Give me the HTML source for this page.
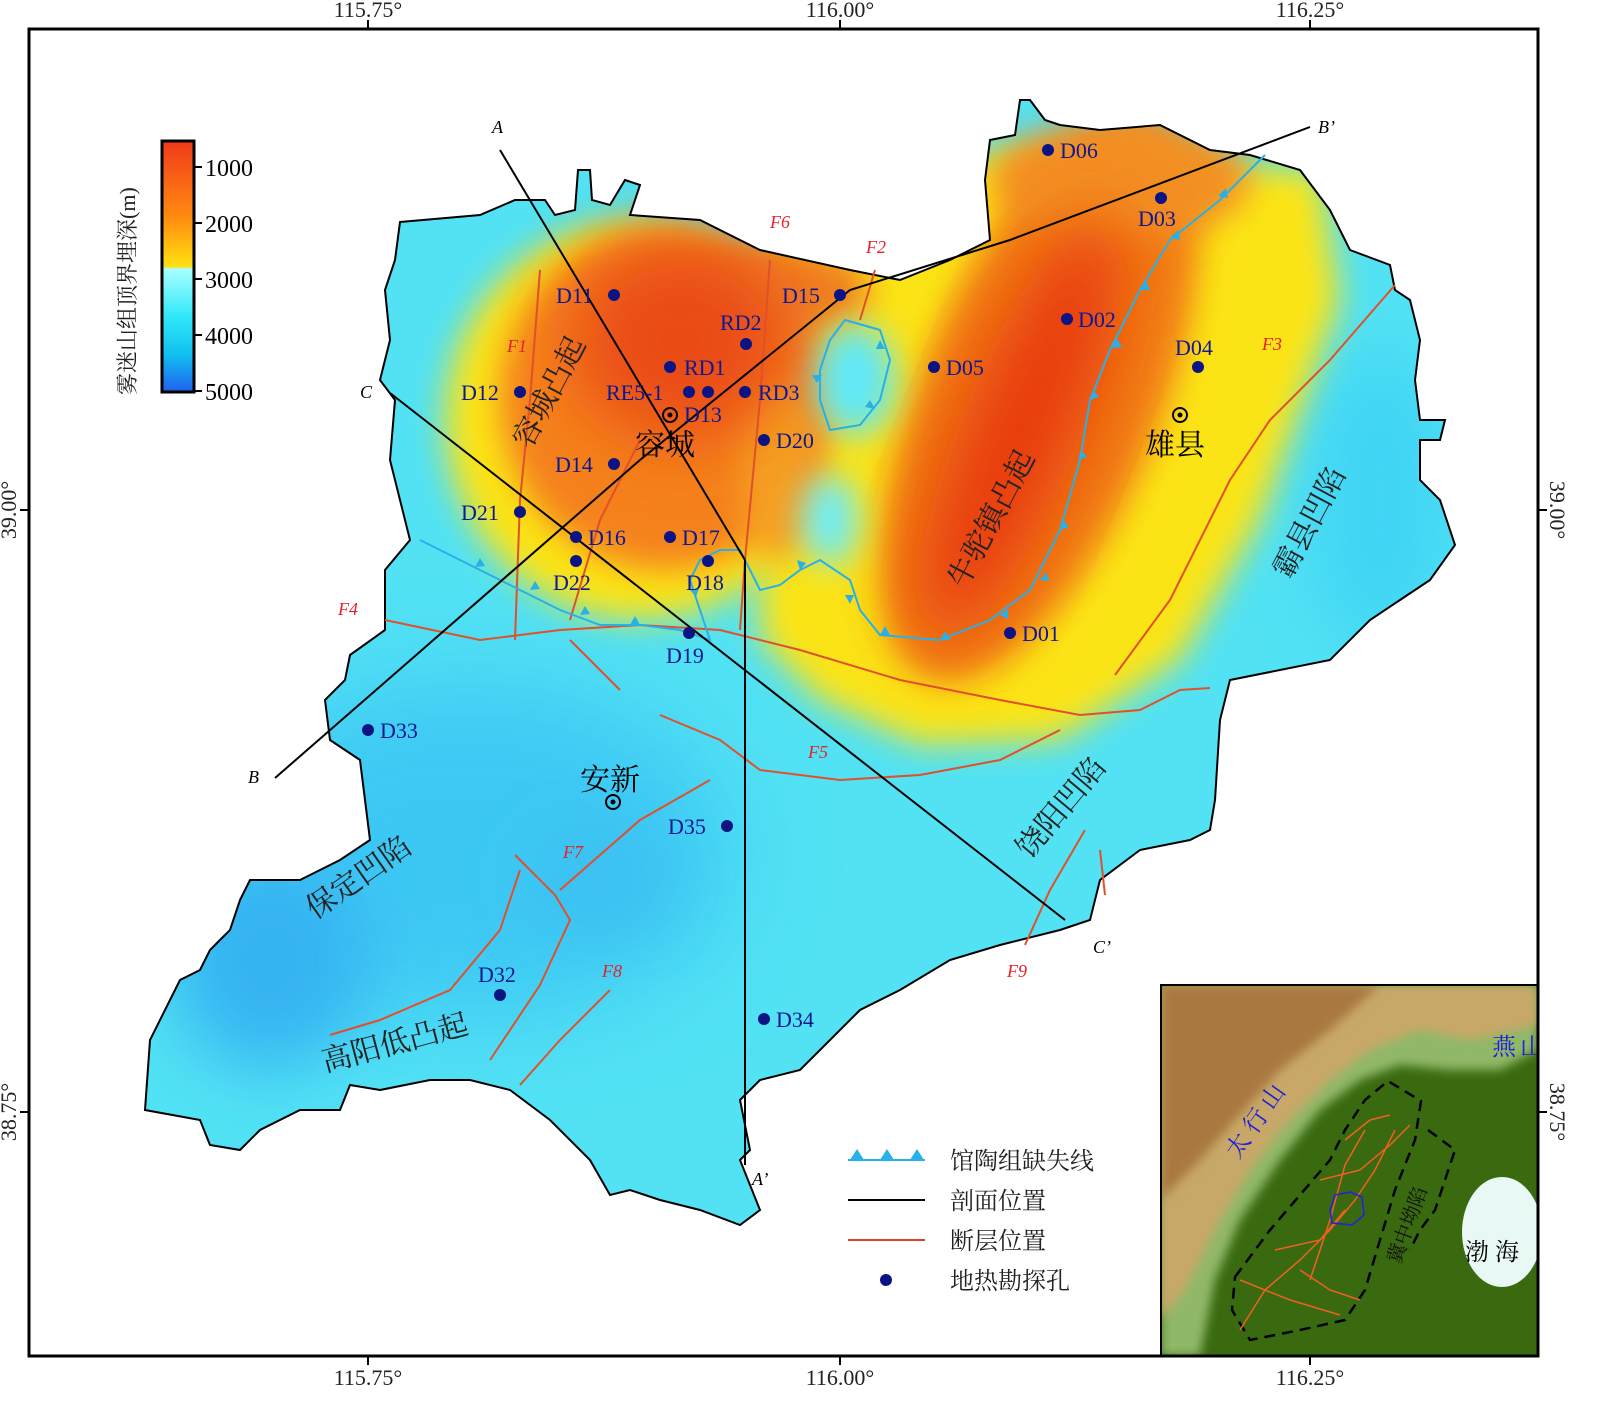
<!DOCTYPE html>
<html><head><meta charset="utf-8"><style>
html,body{margin:0;padding:0;background:#fff;}
svg{display:block;font-family:"Liberation Serif","Noto Serif CJK SC",serif;}
.cn{font-family:"Liberation Serif","Noto Serif CJK SC","Noto Sans CJK SC",serif;}
</style></head><body>
<svg width="1602" height="1416" viewBox="0 0 1602 1416" xmlns="http://www.w3.org/2000/svg">
<defs>
<filter id="b1" x="-50%" y="-50%" width="200%" height="200%"><feGaussianBlur stdDeviation="35"/></filter>
<filter id="b2" x="-50%" y="-50%" width="200%" height="200%"><feGaussianBlur stdDeviation="16"/></filter>
<filter id="b3" x="-50%" y="-50%" width="200%" height="200%"><feGaussianBlur stdDeviation="50"/></filter>
<filter id="b4" x="-50%" y="-50%" width="200%" height="200%"><feGaussianBlur stdDeviation="5"/></filter>
<clipPath id="ins"><rect x="1161" y="985" width="377" height="371"/></clipPath>
<clipPath id="reg"><path id="regp" d="M400,222 L480,215 515,200 545,200 555,215 575,210 578,170 590,170 592,200 610,205 625,180 640,185 630,215 700,220 760,250 850,270 900,280 950,260 990,240 985,180 990,140 1015,135 1020,100 1030,100 1045,120 1060,125 1100,130 1160,125 1210,150 1250,155 1300,170 1330,210 1350,250 1390,265 1395,290 1410,300 1420,340 1415,380 1420,420 1445,420 1440,440 1420,440 1420,480 1440,500 1455,545 1430,580 1400,600 1370,620 1330,660 1230,680 1220,720 1215,800 1210,830 1190,840 1140,850 1100,880 1090,920 1060,930 1000,945 950,960 900,990 860,1010 820,1050 800,1070 760,1080 740,1100 750,1150 740,1160 760,1210 740,1225 700,1210 660,1200 630,1190 610,1195 590,1160 550,1120 510,1090 470,1080 430,1080 380,1090 350,1085 340,1110 300,1110 260,1130 240,1150 210,1145 200,1120 145,1110 150,1040 170,1000 180,980 200,970 210,950 230,930 240,900 250,880 300,880 340,860 370,840 365,800 360,760 330,740 325,700 345,680 350,655 385,630 385,570 410,540 400,500 390,460 395,400 380,380 390,340 385,290 395,260 Z"/></clipPath>
<linearGradient id="cb" x1="0" y1="0" x2="0" y2="1">
<stop offset="0" stop-color="#f03a1a"/><stop offset="0.3" stop-color="#ff8a10"/><stop offset="0.5" stop-color="#ffe010"/><stop offset="0.51" stop-color="#a8ffff"/><stop offset="0.7" stop-color="#30e8f8"/><stop offset="0.85" stop-color="#10c0f0"/><stop offset="1" stop-color="#2060f0"/></linearGradient>
</defs>
<rect width="1602" height="1416" fill="#fff"/>
<g clip-path="url(#reg)">
<rect x="100" y="80" width="1400" height="1200" fill="#52e2f4"/>
<ellipse cx="470" cy="850" rx="260" ry="170" fill="#3cc8f4" filter="url(#b3)"/>
<ellipse cx="270" cy="960" rx="100" ry="110" fill="#36b4f2" filter="url(#b1)"/>
<ellipse cx="600" cy="880" rx="70" ry="50" fill="#3ac0f2" filter="url(#b1)"/>
<ellipse cx="1380" cy="500" rx="70" ry="150" fill="#40d4f4" filter="url(#b1)"/>
<ellipse cx="640" cy="420" rx="195" ry="200" fill="#fbe418" filter="url(#b2)"/>
<path d="M760,240 L1000,150 1320,170 1340,300 1260,520 1180,660 1060,740 920,745 820,700 760,640 Z" fill="#fbe418" filter="url(#b2)"/>
<ellipse cx="665" cy="400" rx="165" ry="170" fill="#f5821a" filter="url(#b2)"/>
<ellipse cx="780" cy="290" rx="90" ry="45" fill="#f08020" filter="url(#b2)"/>
<ellipse cx="780" cy="470" rx="40" ry="90" fill="#f5a020" filter="url(#b2)"/>
<ellipse cx="1040" cy="400" rx="120" ry="300" transform="rotate(22 1040 400)" fill="#f28018" filter="url(#b2)"/>
<ellipse cx="1120" cy="180" rx="130" ry="60" fill="#f39020" filter="url(#b2)"/>
<ellipse cx="680" cy="340" rx="110" ry="100" fill="#ea4c14" filter="url(#b1)"/>
<ellipse cx="1020" cy="430" rx="60" ry="230" transform="rotate(22 1020 430)" fill="#e83a10" filter="url(#b1)"/>
<ellipse cx="855" cy="380" rx="40" ry="55" fill="#60e8f8" filter="url(#b2)"/>
<ellipse cx="830" cy="520" rx="28" ry="45" fill="#70ecf8" filter="url(#b2)"/>
</g>
<use href="#regp" fill="none" stroke="#000" stroke-width="2"/>
<g fill="none" stroke="#e0502a" stroke-width="2">
<path d="M540,270 L530,400 520,500 515,640"/>
<path d="M770,260 L760,400 745,560 740,630"/>
<path d="M875,270 L860,320"/>
<path d="M640,440 L600,520 570,620"/>
<path d="M1395,285 L1330,360 1270,420 1230,480 1170,600 1115,675"/>
<path d="M385,620 L480,640 560,630 640,625 720,630 800,650 900,680 1000,700 1080,715 1140,710 1180,690 1210,688"/>
<path d="M570,640 L620,690"/>
<path d="M660,715 L720,740 760,770 840,780 920,775 1000,760 1060,730"/>
<path d="M710,780 L640,820 560,890"/>
<path d="M515,855 L555,895 570,920 540,985 490,1060"/>
<path d="M520,870 L500,930 450,990 380,1020 330,1035"/>
<path d="M610,990 L560,1040 520,1085"/>
<path d="M1085,830 L1050,890 1025,945"/>
<path d="M1100,850 L1105,895"/>
</g>
<g fill="none" stroke="#28b0e8" stroke-width="2">
<path d="M1265,155 L1220,200 1170,240 1140,290 1110,350 1090,400 1080,460 1060,530 1030,590 990,620 940,640 880,635 860,610 850,580 820,560 800,570 780,585 760,590 750,570 740,550 720,550 700,560 690,580 700,610 710,640 680,630 640,625 600,625 560,610 520,590 480,570 440,550 420,540"/>
<path d="M845,320 L880,330 890,360 880,400 860,425 830,430 820,400 820,370 830,340 Z"/>
</g>
<g fill="#28b0e8">
<path d="M1218,196 l8,-8 2,10z M1170,238 l8,-8 2,10z M1140,290 l6,-9 4,9z M1112,348 l5,-9 5,8z M1090,400 l3,-10 6,7z M1078,460 l3,-10 6,7z M1060,530 l3,-10 6,7z M1040,580 l6,-8 3,9z M1000,615 l8,-6 0,10z M940,640 l5,-9 5,9z M880,635 l5,-9 5,9z M845,595 l9,0 -4,9z M800,570 l-3,-10 9,3z M690,590 l9,-2 -3,9z M630,625 l5,-9 5,9z M580,615 l5,-9 5,8z M530,590 l5,-9 5,8z M475,567 l5,-9 5,8z M812,375 l10,0 -5,8z M880,340 l5,9 -9,0z M870,400 l5,9 -10,-2z"/>
</g>
<g stroke="#000" stroke-width="2" fill="none">
<path d="M500,150 L745,560 745,1165"/>
<path d="M275,778 L640,460 850,290 1010,240 1310,127"/>
<path d="M390,393 L1065,920"/>
</g>
<g font-style="italic" font-size="18">
<text x="492" y="133">A</text><text x="752" y="1185">A’</text>
<text x="248" y="783">B</text><text x="1318" y="133">B’</text>
<text x="360" y="398">C</text><text x="1093" y="953">C’</text>
</g>
<g fill="#e8202a" font-style="italic" font-size="18">
<text x="507" y="352">F1</text><text x="866" y="253">F2</text><text x="1262" y="350">F3</text>
<text x="338" y="615">F4</text><text x="808" y="758">F5</text><text x="770" y="228">F6</text>
<text x="563" y="858">F7</text><text x="602" y="977">F8</text><text x="1007" y="977">F9</text>
</g>
<g fill="#0c1484">
<circle cx="1048" cy="150" r="6"/><circle cx="1161" cy="198" r="6"/><circle cx="614" cy="295" r="6"/><circle cx="840" cy="295" r="6"/><circle cx="1067" cy="319" r="6"/><circle cx="746" cy="344" r="6"/><circle cx="1198" cy="367" r="6"/><circle cx="670" cy="367" r="6"/><circle cx="934" cy="367" r="6"/><circle cx="520" cy="392" r="6"/><circle cx="689" cy="392" r="6"/><circle cx="708" cy="392" r="6"/><circle cx="745" cy="392" r="6"/><circle cx="764" cy="440" r="6"/><circle cx="614" cy="464" r="6"/><circle cx="520" cy="512" r="6"/><circle cx="576" cy="537" r="6"/><circle cx="670" cy="537" r="6"/><circle cx="576" cy="561" r="6"/><circle cx="708" cy="561" r="6"/><circle cx="1010" cy="633" r="6"/><circle cx="689" cy="633" r="6"/><circle cx="368" cy="730" r="6"/><circle cx="727" cy="826" r="6"/><circle cx="500" cy="995" r="6"/><circle cx="764" cy="1019" r="6"/>
</g>
<g fill="#101890" font-size="22">
<text x="1060" y="158">D06</text><text x="1138" y="226">D03</text><text x="556" y="303">D11</text><text x="782" y="303">D15</text><text x="1078" y="327">D02</text><text x="720" y="330">RD2</text><text x="1175" y="355">D04</text><text x="684" y="375">RD1</text><text x="946" y="375">D05</text><text x="461" y="400">D12</text><text x="606" y="400">RE5-1</text><text x="758" y="400">RD3</text><text x="684" y="422">D13</text><text x="776" y="448">D20</text><text x="555" y="472">D14</text><text x="461" y="520">D21</text><text x="588" y="545">D16</text><text x="682" y="545">D17</text><text x="553" y="590">D22</text><text x="686" y="590">D18</text><text x="1022" y="641">D01</text><text x="666" y="663">D19</text><text x="380" y="738">D33</text><text x="668" y="834">D35</text><text x="478" y="982">D32</text><text x="776" y="1027">D34</text>
</g>
<g fill="none" stroke="#000" stroke-width="2"><circle cx="670" cy="415" r="7"/><circle cx="1180" cy="415" r="7"/><circle cx="613" cy="802" r="7"/></g>
<g fill="#000"><circle cx="670" cy="415" r="2.5"/><circle cx="1180" cy="415" r="2.5"/><circle cx="613" cy="802" r="2.5"/></g>
<g class="cn" font-size="30" fill="#000">
<text x="635" y="455">容城</text><text x="1145" y="455">雄县</text><text x="580" y="790">安新</text>
</g>
<g class="cn" font-size="30" fill="#222">
<text transform="translate(530,450) rotate(-62)">容城凸起</text>
<text transform="translate(965,590) rotate(-62)">牛驼镇凸起</text>
<text transform="translate(1290,580) rotate(-62)">霸县凹陷</text>
<text transform="translate(1030,860) rotate(-50)">饶阳凹陷</text>
<text transform="translate(315,920) rotate(-35)">保定凹陷</text>
<text transform="translate(325,1072) rotate(-15)">高阳低凸起</text>
</g>
<rect x="162" y="141" width="32" height="251" fill="url(#cb)" stroke="#000" stroke-width="3"/>
<g stroke="#000" stroke-width="2">
<line x1="194" y1="167" x2="202" y2="167"/><line x1="194" y1="223" x2="202" y2="223"/><line x1="194" y1="279" x2="202" y2="279"/><line x1="194" y1="335" x2="202" y2="335"/><line x1="194" y1="391" x2="202" y2="391"/>
</g>
<g font-size="24" fill="#000"><text x="205" y="176">1000</text><text x="205" y="232">2000</text><text x="205" y="288">3000</text><text x="205" y="344">4000</text><text x="205" y="400">5000</text></g>
<text class="cn" transform="translate(135,395) rotate(-90)" font-size="22" fill="#222">雾迷山组顶界埋深(m)</text>
<line x1="848" y1="1160" x2="925" y2="1160" stroke="#28b0e8" stroke-width="2"/>
<g fill="#28b0e8"><path d="M850,1160 l7,-11 7,11z M880,1160 l7,-11 7,11z M910,1160 l7,-11 7,11z"/></g>
<line x1="848" y1="1200" x2="925" y2="1200" stroke="#000" stroke-width="2"/>
<line x1="848" y1="1240" x2="925" y2="1240" stroke="#e04028" stroke-width="2"/>
<circle cx="886" cy="1280" r="6" fill="#0c1484"/>
<g class="cn" font-size="24" fill="#222"><text x="950" y="1169">馆陶组缺失线</text><text x="950" y="1209">剖面位置</text><text x="950" y="1249">断层位置</text><text x="950" y="1289">地热勘探孔</text></g>
<!-- inset -->
<g clip-path="url(#ins)">
<rect x="1161" y="985" width="377" height="371" fill="#3a6a10"/>
<path d="M1161,985 L1538,985 1538,1050 1500,1070 1450,1070 1400,1065 1360,1080 1320,1110 1280,1160 1240,1220 1215,1280 1200,1356 1161,1356 Z" fill="#90b868" filter="url(#b4)"/>
<path d="M1161,985 L1538,985 1538,1025 1470,1040 1420,1030 1370,1050 1330,1080 1290,1120 1250,1170 1215,1230 1185,1290 1161,1320 Z" fill="#c8a868" filter="url(#b4)"/>
<path d="M1161,985 L1380,985 1330,1030 1280,1070 1235,1120 1200,1160 1161,1200 Z" fill="#a87840" filter="url(#b4)"/>
<ellipse cx="1502" cy="1232" rx="40" ry="55" fill="#e8f8f4"/>
<path d="M1235,1277 L1270,1230 1300,1195 1330,1160 1345,1130 1365,1100 1388,1081 1421,1101 1415,1140 1395,1190 1380,1240 1365,1290 1345,1320 1300,1330 1250,1340 1232,1310 Z" fill="none" stroke="#000" stroke-width="2.5" stroke-dasharray="11,7"/>
<path d="M1428,1130 L1455,1150 1445,1180 1435,1210 1420,1230 1410,1250" fill="none" stroke="#000" stroke-width="2.5" stroke-dasharray="11,7"/>
<g fill="none" stroke="#f06020" stroke-width="1.5">
<path d="M1240,1330 L1265,1290 1300,1260 1330,1230 1355,1200 1375,1170 1395,1130"/>
<path d="M1240,1280 L1290,1300 1340,1315"/>
<path d="M1275,1250 L1320,1240 1345,1210"/>
<path d="M1345,1140 L1370,1120 1390,1115"/>
<path d="M1320,1180 L1360,1170 1390,1145 1410,1125"/>
<path d="M1300,1270 L1330,1290 1360,1300"/>
<path d="M1365,1130 L1345,1165 1330,1220 1310,1280"/>
</g>
<path d="M1330,1210 l5,-15 15,-3 12,5 2,18 -12,10 -20,-2z" fill="none" stroke="#2020e0" stroke-width="1.5"/>
<g class="cn" font-size="24" fill="#2020d8"><text transform="translate(1238,1160) rotate(-55)">太 行 山</text><text x="1492" y="1055">燕</text><text x="1520" y="1055">山</text></g>
<text class="cn" x="1465" y="1260" font-size="24" fill="#000">渤 海</text>
<text class="cn" transform="translate(1400,1265) rotate(-70)" font-size="20" fill="#111">冀中坳陷</text>
</g>
<rect x="1161" y="985" width="377" height="371" fill="none" stroke="#000" stroke-width="2"/>
<rect x="29" y="29" width="1509" height="1327" fill="none" stroke="#000" stroke-width="3"/>
<g stroke="#000" stroke-width="2"><line x1="368" y1="29" x2="368" y2="20"/><line x1="840" y1="29" x2="840" y2="20"/><line x1="1310" y1="29" x2="1310" y2="20"/><line x1="368" y1="1356" x2="368" y2="1365"/><line x1="840" y1="1356" x2="840" y2="1365"/><line x1="1310" y1="1356" x2="1310" y2="1365"/><line x1="29" y1="510" x2="20" y2="510"/><line x1="29" y1="1112" x2="20" y2="1112"/><line x1="1538" y1="510" x2="1547" y2="510"/><line x1="1538" y1="1112" x2="1547" y2="1112"/></g>
<g font-size="22" fill="#222" text-anchor="middle">
<text x="368" y="17">115.75°</text><text x="840" y="17">116.00°</text><text x="1310" y="17">116.25°</text>
<text x="368" y="1385">115.75°</text><text x="840" y="1385">116.00°</text><text x="1310" y="1385">116.25°</text>
<text transform="translate(16,510) rotate(-90)">39.00°</text><text transform="translate(16,1112) rotate(-90)">38.75°</text>
<text transform="translate(1550,510) rotate(90)">39.00°</text><text transform="translate(1550,1112) rotate(90)">38.75°</text>
</g>
</svg>
</body></html>
